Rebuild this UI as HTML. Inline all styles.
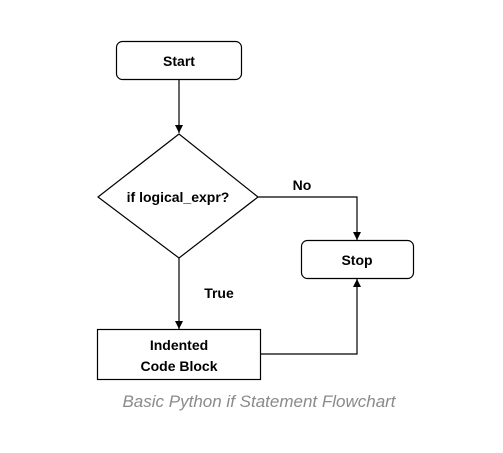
<!DOCTYPE html>
<html><head><style>
body{margin:0;background:#fff;}
svg text{font-family:"Liberation Sans",Arial,sans-serif;}
</style></head><body>
<svg width="503" height="448" xmlns="http://www.w3.org/2000/svg">
<defs><marker id="a" markerWidth="10" markerHeight="10" refX="9" refY="5" orient="auto" markerUnits="userSpaceOnUse"><path d="M1,1 L9,5 L1,9 Z" fill="#000"/></marker></defs>
<rect x="116.5" y="41.5" width="125" height="38" rx="6" fill="#fff" stroke="#000" stroke-width="1.2"/>
<text x="179" y="66" font-size="14" font-weight="bold" text-anchor="middle">Start</text>
<line x1="179" y1="80" x2="179" y2="133" stroke="#000" stroke-width="1.2" marker-end="url(#a)"/>
<polygon points="179,134 98,197 179,258 258,197" fill="#fff" stroke="#000" stroke-width="1.2"/>
<text x="178" y="202" font-size="14" font-weight="bold" text-anchor="middle">if logical_expr?</text>
<polyline points="258,197 357,197 357,240" fill="none" stroke="#000" stroke-width="1.2" marker-end="url(#a)"/>
<text x="302" y="190" font-size="14" font-weight="bold" text-anchor="middle">No</text>
<rect x="301.5" y="240.5" width="112" height="38" rx="6" fill="#fff" stroke="#000" stroke-width="1.2"/>
<text x="357" y="265" font-size="14" font-weight="bold" text-anchor="middle">Stop</text>
<line x1="179" y1="258" x2="179" y2="329" stroke="#000" stroke-width="1.2" marker-end="url(#a)"/>
<text x="219" y="298" font-size="14" font-weight="bold" text-anchor="middle">True</text>
<rect x="97.5" y="329.5" width="163" height="50" fill="#fff" stroke="#000" stroke-width="1.2"/>
<text x="179" y="350" font-size="14" font-weight="bold" text-anchor="middle">Indented</text>
<text x="179" y="371" font-size="14" font-weight="bold" text-anchor="middle">Code Block</text>
<polyline points="261,354 357,354 357,279" fill="none" stroke="#000" stroke-width="1.2" marker-end="url(#a)"/>
<text x="259" y="407" font-size="17" font-style="italic" fill="#8a8a8a" text-anchor="middle">Basic Python if Statement Flowchart</text>
</svg>
</body></html>
